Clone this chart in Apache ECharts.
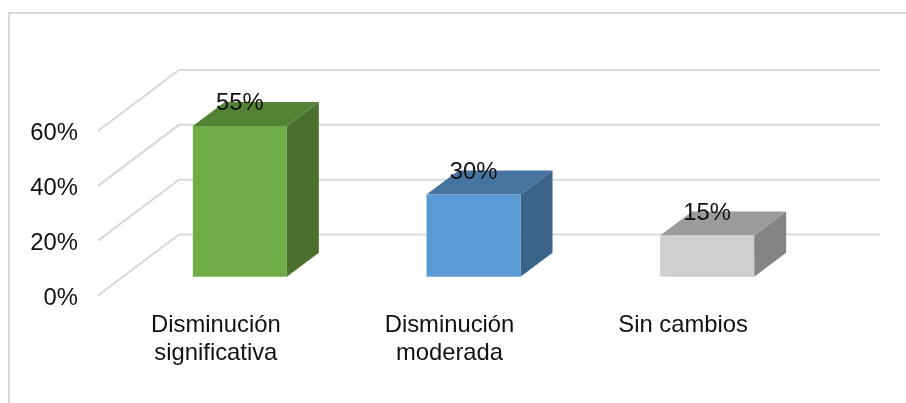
<!DOCTYPE html>
<html>
<head>
<meta charset="utf-8">
<style>
  html, body { margin: 0; padding: 0; background: #fff; }
  #chart { width: 906px; height: 403px; }
</style>
<script src="https://cdn.jsdelivr.net/npm/echarts@6/dist/echarts.min.js"></script>
</head>
<body>
<div id="chart"></div>
<script>
var categories = ['Disminución\nsignificativa', 'Disminución\nmoderada', 'Sin cambios'];
var values = [55, 30, 15];
var yTicks = [0, 20, 40, 60];
var frontColors = ['#70AD47', '#5B9BD5', '#D0CECE'];
var topColors = ['#548235', '#44749F', '#9C9B9B'];
var sideColors = ['#4B6F2C', '#3A6488', '#858383'];

var font = '"Liberation Sans", Arial, sans-serif';
var fontSize = 23.8;
var wallDx = 81, wallDy = -61;   // depth of the floor / walls
var barOffX = 25, barOffY = -18.8; // where the bar stands inside that depth
var barDx = 32, barDy = -24;     // depth of one bar
var barWidth = 94;

function renderGridLine(params, api) {
    var y = api.coord([0, api.value(1)])[1];
    var cs = params.coordSys;
    return {
        type: 'polyline',
        shape: { points: [[cs.x, y], [cs.x + wallDx, y + wallDy], [cs.x + cs.width + wallDx, y + wallDy]] },
        style: { stroke: '#D9D9D9', lineWidth: 2, fill: null }
    };
}

function renderBar(params, api) {
    var i = params.dataIndex;
    var base = api.coord([api.value(0), 0]);
    var top = api.coord([api.value(0), api.value(1)]);
    var x0 = base[0] + barOffX - barWidth / 2;
    var x1 = x0 + barWidth;
    var yb = base[1] + barOffY;
    var yt = top[1] + barOffY;
    return {
        type: 'group',
        children: [
            { type: 'polygon', shape: { points: [[x1, yb], [x1 + barDx, yb + barDy], [x1 + barDx, yt + barDy], [x1, yt]] }, style: { fill: sideColors[i] } },
            { type: 'polygon', shape: { points: [[x0, yt], [x1, yt], [x1 + barDx, yt + barDy], [x0 + barDx, yt + barDy]] }, style: { fill: topColors[i] } },
            { type: 'rect', shape: { x: x0, y: yt, width: barWidth, height: yb - yt }, style: { fill: frontColors[i] } },
            {
                type: 'text', z2: 10,
                style: {
                    x: (x0 + x1) / 2, y: yt + barDy + 2,
                    text: api.value(1) + '%',
                    fill: '#111', font: fontSize + 'px ' + font,
                    align: 'center', verticalAlign: 'middle'
                }
            }
        ]
    };
}

var myChart = echarts.init(document.getElementById('chart'), null, { renderer: 'canvas' });
var option = {
    animation: false,
    backgroundColor: '#fff',
    graphic: [{
        type: 'polyline',
        shape: { points: [[9, 403], [9, 13], [906, 13]] },
        style: { stroke: '#D9D9D9', lineWidth: 2, fill: null }
    }],
    grid: { left: 98, top: 131, width: 701, height: 164.5 },
    xAxis: {
        type: 'category',
        data: categories,
        axisLine: { show: false },
        axisTick: { show: false },
        axisLabel: {
            color: '#111', fontFamily: font, fontSize: fontSize,
            lineHeight: 28, margin: 16, verticalAlign: 'top', interval: 0,
            padding: [0, 0, 0, 2]
        }
    },
    yAxis: {
        type: 'value',
        min: 0,
        max: 60,
        interval: 20,
        splitLine: { show: false },
        axisLine: { show: false },
        axisTick: { show: false },
        axisLabel: {
            color: '#111', fontFamily: font, fontSize: fontSize, margin: 20,
            verticalAlign: 'top', lineHeight: 5,
            formatter: '{value}%'
        }
    },
    series: [
        {
            type: 'custom',
            renderItem: renderGridLine,
            encode: { x: 0, y: 1 },
            clip: false,
            silent: true,
            z: 1,
            data: yTicks.map(function (v) { return [0, v]; })
        },
        {
            type: 'custom',
            renderItem: renderBar,
            encode: { x: 0, y: 1 },
            clip: false,
            z: 2,
            data: values.map(function (v, i) { return [i, v]; })
        }
    ]
};
myChart.setOption(option);
</script>
</body>
</html>
